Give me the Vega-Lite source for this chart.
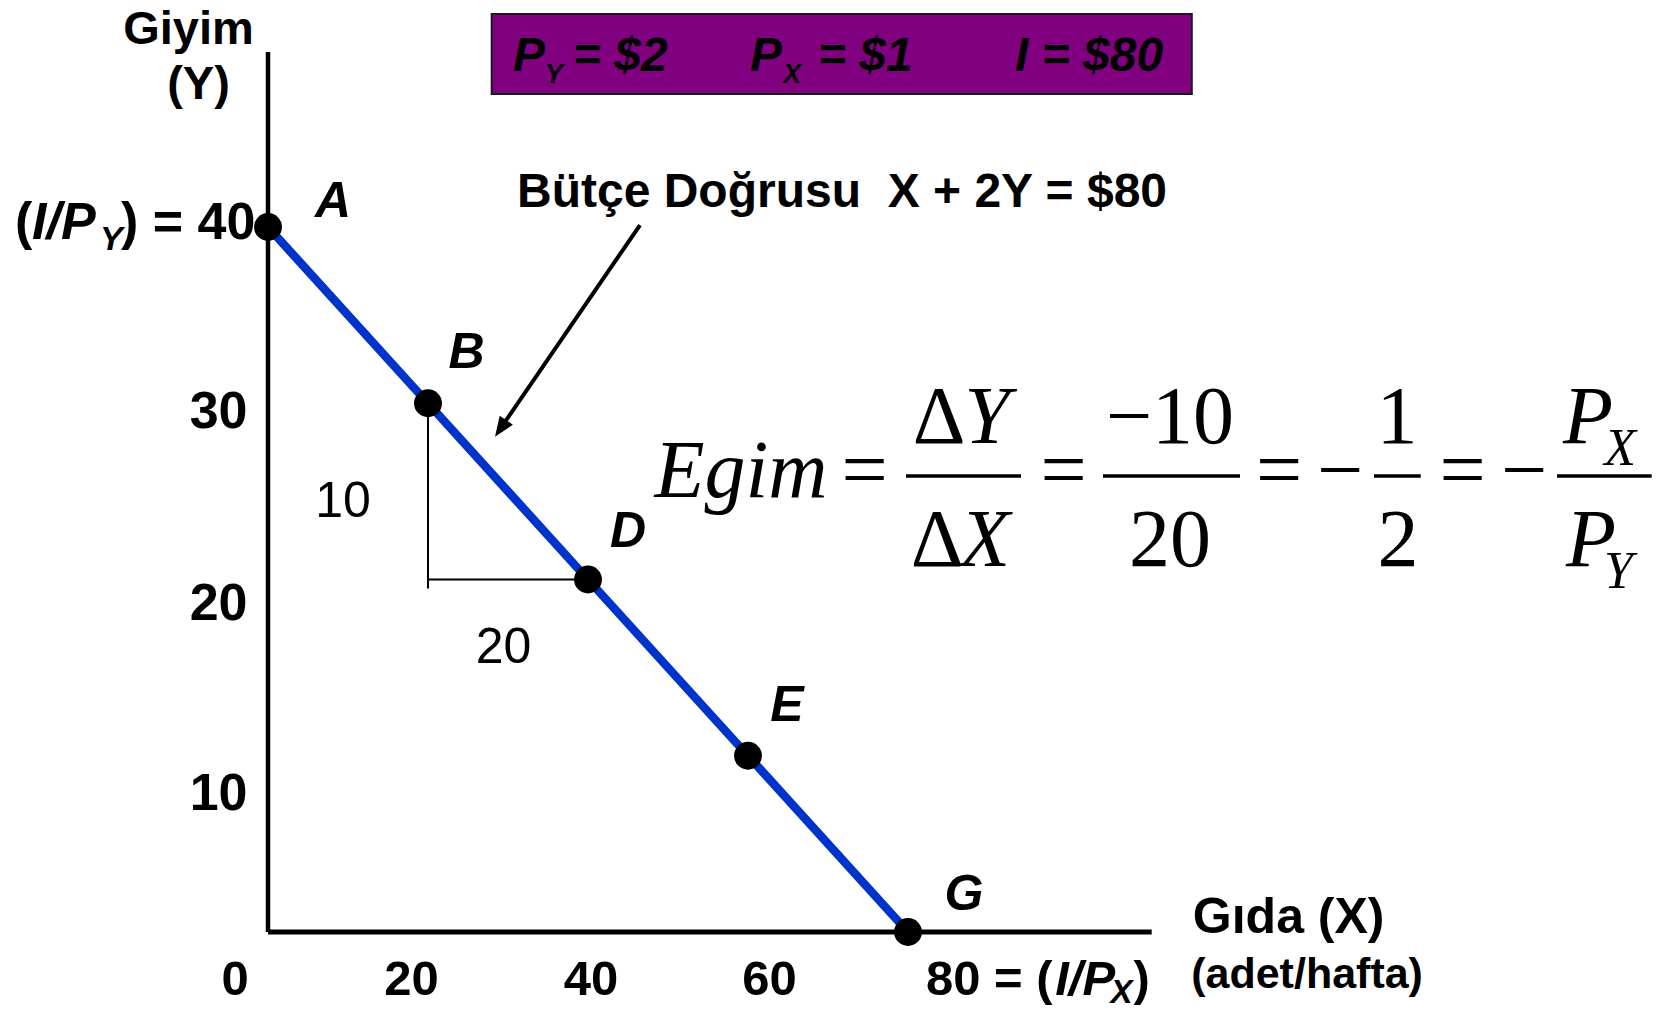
{
  "$schema": "https://vega.github.io/schema/vega-lite/v6.json",
  "width": 1676,
  "height": 1010,
  "autosize": {"type": "none"},
  "padding": 0,
  "background": "white",
  "config": {"view": {"stroke": null}},
  "encoding": {
    "x": {"field": "x", "type": "quantitative", "scale": {"domain": [-33.5, 176], "nice": false, "zero": false}, "axis": null},
    "y": {"field": "y", "type": "quantitative", "scale": {"domain": [-4.4255, 52.8794], "nice": false, "zero": false}, "axis": null}
  },
  "layer": [
    {
      "data": {"values": [{"x": 0, "y": 0, "x2": 0, "y2": 49.929}]},
      "mark": {"type": "rule", "color": "black", "strokeWidth": 4.5},
      "encoding": {"x2": {"field": "x2"}, "y2": {"field": "y2"}}
    },
    {
      "data": {"values": [{"x": 0, "y": 0, "x2": 110.4625, "y2": 0}]},
      "mark": {"type": "rule", "color": "black", "strokeWidth": 5},
      "encoding": {"x2": {"field": "x2"}, "y2": {"field": "y2"}}
    },
    {
      "data": {"values": [{"x": 20, "y": 30, "x2": 20, "y2": 19.49}, {"x": 20, "y": 20, "x2": 40, "y2": 20}]},
      "mark": {"type": "rule", "color": "black", "strokeWidth": 2},
      "encoding": {"x2": {"field": "x2"}, "y2": {"field": "y2"}}
    },
    {
      "data": {"values": [
        {"x": 0, "y": 40, "point": "A"},
        {"x": 20, "y": 30, "point": "B"},
        {"x": 40, "y": 20, "point": "D"},
        {"x": 60, "y": 10, "point": "E"},
        {"x": 80, "y": 0, "point": "G"}
      ]},
      "mark": {"type": "line", "color": "#0033cc", "strokeWidth": 8.5},
      "encoding": {}
    },
    {
      "data": {"values": [
        {"x": 0, "y": 40, "point": "A"},
        {"x": 20, "y": 30, "point": "B"},
        {"x": 40, "y": 20, "point": "D"},
        {"x": 60, "y": 10, "point": "E"},
        {"x": 80, "y": 0, "point": "G"}
      ]},
      "mark": {"type": "point", "shape": "circle", "filled": true, "color": "black", "opacity": 1, "size": 780}
    },
    {
      "data": {"values": [{"x": 46.5, "y": 40.113, "x2": 29.225, "y2": 28.68}]},
      "mark": {"type": "rule", "color": "black", "strokeWidth": 4},
      "encoding": {"x2": {"field": "x2"}, "y2": {"field": "y2"}}
    },
    {
      "data": {"values": [{"x": 28.375, "y": 28.102}]},
      "mark": {"type": "point", "shape": "M0,0L-0.4,1L0.4,1Z", "filled": true, "color": "black", "opacity": 1, "size": 1600, "angle": 214.4, "strokeWidth": 0}
    },
    {
      "data": {"values": [
        {"x": 8.125, "y": 40.567, "t": "A"},
        {"x": 24.8125, "y": 31.983, "t": "B"},
        {"x": 45, "y": 21.872, "t": "D"},
        {"x": 64.875, "y": 11.989, "t": "E"},
        {"x": 87, "y": 1.248, "t": "G"}
      ]},
      "mark": {"type": "text", "font": "Liberation Sans", "fontWeight": "bold", "fontStyle": "italic", "fontSize": 50, "align": "center", "baseline": "alphabetic", "color": "black"},
      "encoding": {"text": {"field": "t"}}
    },
    {
      "data": {"values": [
        {"x": 9.375, "y": 23.574, "t": "10"},
        {"x": 29.4375, "y": 15.245, "t": "20"}
      ]},
      "mark": {"type": "text", "font": "Liberation Sans", "fontSize": 50, "align": "center", "baseline": "alphabetic", "color": "black"},
      "encoding": {"text": {"field": "t"}}
    },
    {
      "data": {"values": [
        {"x": -2.5625, "y": 28.579, "t": "30"},
        {"x": -2.5625, "y": 17.713, "t": "20"},
        {"x": -2.5625, "y": 6.922, "t": "10"}
      ]},
      "mark": {"type": "text", "font": "Liberation Sans", "fontWeight": "bold", "fontSize": 52, "align": "right", "baseline": "alphabetic", "color": "black"},
      "encoding": {"text": {"field": "t"}}
    },
    {
      "data": {"values": [
        {"x": -31.625, "y": 39.302, "t": "("},
        {"x": -18.375, "y": 39.302, "t": ") = 40"}
      ]},
      "mark": {"type": "text", "font": "Liberation Sans", "fontWeight": "bold", "fontSize": 52, "align": "left", "baseline": "alphabetic", "color": "black"},
      "encoding": {"text": {"field": "t"}}
    },
    {
      "data": {"values": [{"x": -29.5, "y": 39.302, "t": "I/P"}]},
      "mark": {"type": "text", "font": "Liberation Sans", "fontWeight": "bold", "fontStyle": "italic", "fontSize": 52, "align": "left", "baseline": "alphabetic", "color": "black"},
      "encoding": {"text": {"field": "t"}}
    },
    {
      "data": {"values": [{"x": -21, "y": 38.695, "t": "Y"}]},
      "mark": {"type": "text", "font": "Liberation Sans", "fontWeight": "bold", "fontStyle": "italic", "fontSize": 34, "align": "left", "baseline": "alphabetic", "color": "black"},
      "encoding": {"text": {"field": "t"}}
    },
    {
      "data": {"values": [
        {"x": -4.125, "y": -3.574, "t": "0"},
        {"x": 17.9375, "y": -3.574, "t": "20"},
        {"x": 40.375, "y": -3.574, "t": "40"},
        {"x": 62.7, "y": -3.574, "t": "60"}
      ]},
      "mark": {"type": "text", "font": "Liberation Sans", "fontWeight": "bold", "fontSize": 49, "align": "center", "baseline": "alphabetic", "color": "black"},
      "encoding": {"text": {"field": "t"}}
    },
    {
      "data": {"values": [
        {"x": 82.25, "y": -3.574, "t": "80 = ("},
        {"x": 108.2, "y": -3.574, "t": ")"}
      ]},
      "mark": {"type": "text", "font": "Liberation Sans", "fontWeight": "bold", "fontSize": 49, "align": "left", "baseline": "alphabetic", "color": "black"},
      "encoding": {"text": {"field": "t"}}
    },
    {
      "data": {"values": [{"x": 98.4, "y": -3.574, "t": "I/P"}]},
      "mark": {"type": "text", "font": "Liberation Sans", "fontWeight": "bold", "fontStyle": "italic", "fontSize": 49, "align": "left", "baseline": "alphabetic", "color": "black"},
      "encoding": {"text": {"field": "t"}}
    },
    {
      "data": {"values": [{"x": 105.3, "y": -4.028, "t": "X"}]},
      "mark": {"type": "text", "font": "Liberation Sans", "fontWeight": "bold", "fontStyle": "italic", "fontSize": 33, "align": "left", "baseline": "alphabetic", "color": "black"},
      "encoding": {"text": {"field": "t"}}
    },
    {
      "data": {"values": [
        {"x": -9.9375, "y": 50.40, "t": "Giyim"},
        {"x": -8.6875, "y": 47.25, "t": "(Y)"}
      ]},
      "mark": {"type": "text", "font": "Liberation Sans", "fontWeight": "bold", "fontSize": 47, "align": "center", "baseline": "alphabetic", "color": "black"},
      "encoding": {"text": {"field": "t"}}
    },
    {
      "data": {"values": [{"x": 115.6, "y": -0.06, "t": "Gıda (X)"}]},
      "mark": {"type": "text", "font": "Liberation Sans", "fontWeight": "bold", "fontSize": 50, "align": "left", "baseline": "alphabetic", "color": "black"},
      "encoding": {"text": {"field": "t"}}
    },
    {
      "data": {"values": [{"x": 115.4, "y": -3.15, "t": "(adet/hafta)"}]},
      "mark": {"type": "text", "font": "Liberation Sans", "fontWeight": "bold", "fontSize": 43, "align": "left", "baseline": "alphabetic", "color": "black"},
      "encoding": {"text": {"field": "t"}}
    },
    {
      "data": {"values": [{"x": 71.75, "y": 41.135, "t": "Bütçe Doğrusu\u00a0 X + 2Y = $80"}]},
      "mark": {"type": "text", "font": "Liberation Sans", "fontWeight": "bold", "fontSize": 48, "align": "center", "baseline": "alphabetic", "color": "black"},
      "encoding": {"text": {"field": "t"}}
    },
    {
      "data": {"values": [{"x": 27.96, "x2": 115.475, "y": 52.085, "y2": 47.546}]},
      "mark": {"type": "rect", "fill": "#800080", "stroke": "#1a1a1a", "strokeWidth": 2},
      "encoding": {"x2": {"field": "x2"}, "y2": {"field": "y2"}}
    },
    {
      "data": {"values": [
        {"x": 30.625, "y": 48.834, "t": "P"},
        {"x": 38.125, "y": 48.834, "t": "= $2"},
        {"x": 60.25, "y": 48.834, "t": "P"},
        {"x": 68.75, "y": 48.834, "t": "= $1"},
        {"x": 93.375, "y": 48.834, "t": "I = $80"}
      ]},
      "mark": {"type": "text", "font": "Liberation Sans", "fontWeight": "bold", "fontStyle": "italic", "fontSize": 48, "align": "left", "baseline": "alphabetic", "color": "black"},
      "encoding": {"text": {"field": "t"}}
    },
    {
      "data": {"values": [
        {"x": 34.625, "y": 48.17, "t": "Y"},
        {"x": 64.375, "y": 48.17, "t": "X"}
      ]},
      "mark": {"type": "text", "font": "Liberation Sans", "fontWeight": "bold", "fontStyle": "italic", "fontSize": 27, "align": "left", "baseline": "alphabetic", "color": "black"},
      "encoding": {"text": {"field": "t"}}
    },
    {
      "data": {"values": [
        {"x": 74.5625, "y": 24.681, "t": "="},
        {"x": 99.4375, "y": 24.681, "t": "="},
        {"x": 126.375, "y": 24.681, "t": "="},
        {"x": 134, "y": 24.681, "t": "−"},
        {"x": 149.3375, "y": 24.681, "t": "="},
        {"x": 157, "y": 24.681, "t": "−"},
        {"x": 112.75, "y": 27.773, "t": "−10"},
        {"x": 112.75, "y": 20.738, "t": "20"},
        {"x": 141.125, "y": 27.773, "t": "1"},
        {"x": 141.25, "y": 20.738, "t": "2"},
        {"x": 83.875, "y": 27.773, "t": "Δ"},
        {"x": 83.625, "y": 20.738, "t": "Δ"}
      ]},
      "mark": {"type": "text", "font": "Liberation Serif", "fontSize": 82, "align": "center", "baseline": "alphabetic", "color": "black"},
      "encoding": {"text": {"field": "t"}}
    },
    {
      "data": {"values": [
        {"x": 59.125, "y": 24.681, "t": "Egim"},
        {"x": 89.875, "y": 27.773, "t": "Y"},
        {"x": 89.625, "y": 20.738, "t": "X"},
        {"x": 165, "y": 27.773, "t": "P"},
        {"x": 165.375, "y": 20.738, "t": "P"}
      ]},
      "mark": {"type": "text", "font": "Liberation Serif", "fontStyle": "italic", "fontSize": 82, "align": "center", "baseline": "alphabetic", "color": "black"},
      "encoding": {"text": {"field": "t"}}
    },
    {
      "data": {"values": [
        {"x": 169, "y": 26.496, "t": "X"},
        {"x": 168.8, "y": 19.518, "t": "Y"}
      ]},
      "mark": {"type": "text", "font": "Liberation Serif", "fontStyle": "italic", "fontSize": 52, "align": "center", "baseline": "alphabetic", "color": "black"},
      "encoding": {"text": {"field": "t"}}
    },
    {
      "data": {"values": [
        {"x": 79.75, "x2": 94.125, "y": 25.872, "y2": 25.872},
        {"x": 104.375, "x2": 121.5, "y": 25.872, "y2": 25.872},
        {"x": 138.25, "x2": 144.09, "y": 25.872, "y2": 25.872},
        {"x": 161.125, "x2": 172.96, "y": 25.872, "y2": 25.872}
      ]},
      "mark": {"type": "rule", "color": "black", "strokeWidth": 3.5},
      "encoding": {"x2": {"field": "x2"}, "y2": {"field": "y2"}}
    }
  ]
}
